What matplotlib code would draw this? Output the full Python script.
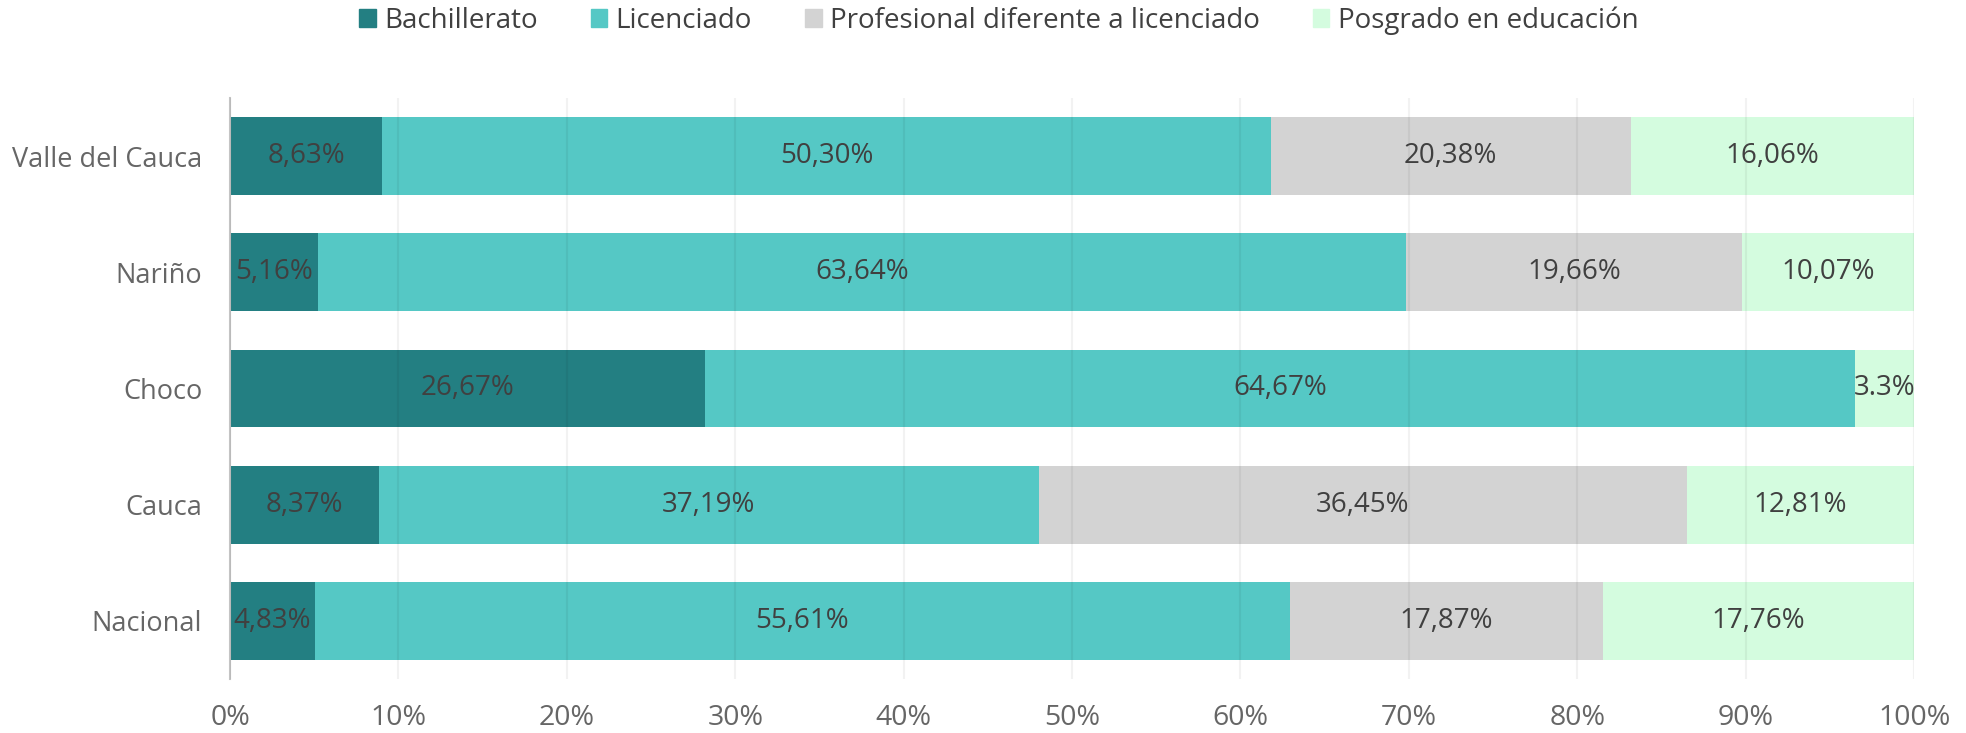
import numpy as np
import matplotlib.pyplot as plt
from matplotlib.patches import Patch

plt.rcParams['font.family'] = ['Open Sans', 'DejaVu Sans']

# data (top to bottom as in the picture)
regiones = ['Valle del Cauca', 'Nariño', 'Choco', 'Cauca', 'Nacional']
series = ['Bachillerato', 'Licenciado', 'Profesional diferente a licenciado', 'Posgrado en educación']
bachillerato = [8.63, 5.16, 26.67, 8.37, 4.83]
licenciado = [50.30, 63.64, 64.67, 37.19, 55.61]
profesional = [20.38, 19.66, 0.0, 36.45, 17.87]
posgrado = [16.06, 10.07, 3.3, 12.81, 17.76]
etiquetas = [
    ['8,63%', '5,16%', '26,67%', '8,37%', '4,83%'],
    ['50,30%', '63,64%', '64,67%', '37,19%', '55,61%'],
    ['20,38%', '19,66%', '', '36,45%', '17,87%'],
    ['16,06%', '10,07%', '3.3%', '12,81%', '17,76%'],
]
colores = ['#237F82', '#55C8C5', '#D3D3D3', '#D4FCDF']

valores = np.array([bachillerato, licenciado, profesional, posgrado])
# bars are shown as share of the row total (100% stacked)
pct = valores / valores.sum(axis=0) * 100

fig = plt.figure(figsize=(19.66, 7.33), dpi=100)
ax = fig.add_axes([0.117, 0.0737, 0.8566, 0.7926])

y = np.arange(len(regiones))[::-1]
left = np.zeros(len(regiones))
for i in range(len(series)):
    ax.barh(y, pct[i], left=left, height=0.67, color=colores[i], zorder=1)
    for j in range(len(regiones)):
        if etiquetas[i][j]:
            ax.text(left[j] + pct[i][j] / 2, y[j], etiquetas[i][j], ha='center', va='center',
                    fontsize=20, color='#404040', zorder=3)
    left += pct[i]

ax.set_xlim(0, 100)
ax.set_ylim(-0.5, 4.5)
ax.set_xticks(np.arange(0, 101, 10))
ax.set_xticklabels([f'{v}%' for v in range(0, 101, 10)])
ax.set_yticks(y)
ax.set_yticklabels(regiones)
ax.tick_params(axis='both', length=0, labelcolor='#666666')
ax.tick_params(axis='x', pad=18, labelsize=20.5)
ax.tick_params(axis='y', pad=20, labelsize=19.5)
ax.grid(axis='x', color='#000000', alpha=0.05, linewidth=1.5, zorder=2)
ax.set_axisbelow(False)
for s in ['top', 'right', 'bottom']:
    ax.spines[s].set_visible(False)
ax.spines['left'].set_color('#C4C4C4')
ax.spines['left'].set_linewidth(1.5)

handles = [Patch(color=c, label=s) for c, s in zip(colores, series)]
fig.legend(handles=handles, loc='center', bbox_to_anchor=(0.508, 0.972), ncol=4, frameon=False,
           fontsize=20, labelcolor='#404040', handlelength=0.6, handleheight=0.6,
           handletextpad=0.3, columnspacing=1.9)

plt.savefig('out.png', dpi=100)
